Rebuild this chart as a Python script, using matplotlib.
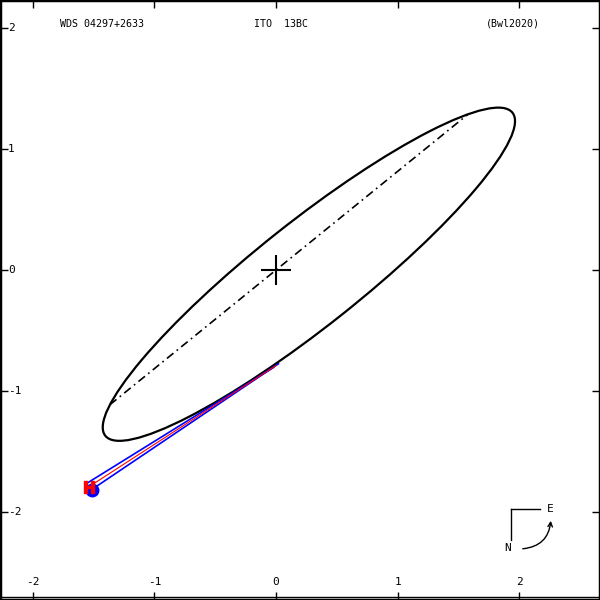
import numpy as np
import matplotlib.pyplot as plt
from matplotlib.patches import Ellipse, FancyArrowPatch

# apparent orbit (arcsec)
ell_center = (0.27, -0.035)
ell_semi = (2.14, 0.43)
ell_angle = 38.6
node_angle = 39.2

# measures and predicted positions
blue_x = [-1.515, -1.55]
blue_y = [-1.815, -1.76]
blue_px = [0.02, -0.02]
blue_py = [-0.775, -0.805]
hip_x = [-1.535]
hip_y = [-1.79]
hip_px = [0.0]
hip_py = [-0.79]

ticks = [-2, -1, 0, 1, 2]
xlim = (-2.268, 2.662)
ylim = (-2.727, 2.231)

fig = plt.figure(figsize=(6, 6), dpi=100)
ax = fig.add_axes([0, 0, 1, 1])
ax.set_xlim(*xlim)
ax.set_ylim(*ylim)
for sp in ax.spines.values():
    sp.set_linewidth(2.5)

ax.set_xticks(ticks)
ax.set_yticks(ticks)
ax.tick_params(direction='in', length=6, width=1, top=True, right=True,
               labelbottom=False, labelleft=False)
ax.axhline(ylim[0] + 0.025, color='black', lw=1)

mono = 'DejaVu Sans Mono'
for t in ticks:
    ax.text(t, -2.58, str(t), ha='center', va='center', fontsize=8, family=mono)
    ax.text(0.013, (t - ylim[0]) / (ylim[1] - ylim[0]), str(t), transform=ax.transAxes,
            ha='left', va='center', fontsize=8, family=mono)

ax.text(0.1, 0.96, 'WDS 04297+2633', transform=ax.transAxes, fontsize=7.2, family=mono, va='center')
ax.text(0.468, 0.96, 'ITO  13BC', transform=ax.transAxes, fontsize=7.2, family=mono,
        ha='center', va='center')
ax.text(0.9, 0.96, '(Bwl2020)', transform=ax.transAxes, fontsize=7.2, family=mono,
        ha='right', va='center')

# orbit
ax.add_patch(Ellipse(ell_center, 2 * ell_semi[0], 2 * ell_semi[1], angle=ell_angle,
                     fill=False, color='black', lw=1.6))

# line of nodes: chord through the primary
th = np.radians(ell_angle)
ph = np.radians(node_angle)
d = np.array([np.cos(ph), np.sin(ph)])
c = np.array(ell_center)
R = np.array([[np.cos(th), np.sin(th)], [-np.sin(th), np.cos(th)]])
dl = R @ d
cl = R @ (-c)
A = (dl[0] / ell_semi[0]) ** 2 + (dl[1] / ell_semi[1]) ** 2
B = 2 * (cl[0] * dl[0] / ell_semi[0] ** 2 + cl[1] * dl[1] / ell_semi[1] ** 2)
C = (cl[0] / ell_semi[0]) ** 2 + (cl[1] / ell_semi[1]) ** 2 - 1
disc = np.sqrt(B * B - 4 * A * C)
t1, t2 = (-B - disc) / (2 * A), (-B + disc) / (2 * A)
ax.plot([t1 * d[0], t2 * d[0]], [t1 * d[1], t2 * d[1]], color='black', lw=1.2,
        dashes=(5, 2.5, 1, 2.5))

# primary
ax.plot([0], [0], marker='+', markersize=22, mew=1.5, color='black')

# O-C lines and measures
for x0, y0, x1, y1 in zip(blue_x, blue_y, blue_px, blue_py):
    ax.plot([x0, x1], [y0, y1], color='blue', lw=1.2)
for x0, y0, x1, y1 in zip(hip_x, hip_y, hip_px, hip_py):
    ax.plot([x0, x1], [y0, y1], color='red', lw=0.8)
ax.plot(blue_x[:1], blue_y[:1], 'o', color='blue', markersize=9)
ax.plot(hip_x, hip_y, marker=r'$\mathbf{H}$', color='red', markersize=8, linestyle='none')

# compass
ax.plot([510.7 / 600, 540 / 600], [1 - 509.3 / 600] * 2, transform=ax.transAxes, color='black', lw=1)
ax.plot([510.7 / 600] * 2, [1 - 509.3 / 600, 1 - 540 / 600], transform=ax.transAxes, color='black', lw=1)
ax.text(550 / 600, 1 - 509 / 600, 'E', transform=ax.transAxes, ha='center', va='center',
        fontsize=8, family=mono)
ax.text(508 / 600, 1 - 548 / 600, 'N', transform=ax.transAxes, ha='center', va='center',
        fontsize=8, family=mono)
ax.add_patch(FancyArrowPatch((520 / 600, 1 - 549 / 600), (551 / 600, 1 - 518 / 600),
                             transform=ax.transAxes, connectionstyle='arc3,rad=0.45',
                             arrowstyle='->', mutation_scale=8, color='black', lw=1))

fig.savefig('out.png', dpi=100)
